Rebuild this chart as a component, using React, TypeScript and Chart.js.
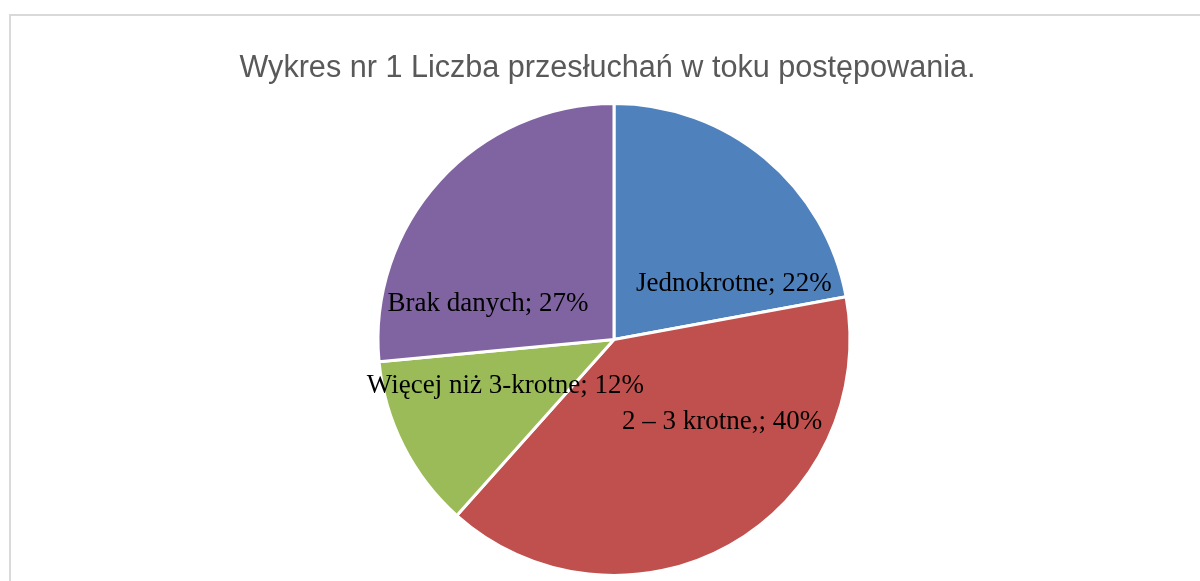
import React, { useEffect, useRef } from "react";
import { Chart, registerables } from "chart.js";

Chart.register(...registerables);

const TITLE = "Wykres nr 1 Liczba przesłuchań w toku postępowania.";
const CATEGORIES = ["Jednokrotne", "2 – 3 krotne,", "Więcej niż 3-krotne", "Brak danych"];
const VALUES = [22.1, 39.5, 11.9, 26.5];
const COLORS = ["#4F81BD", "#C0504D", "#9BBB59", "#8064A2"];
// label placement inside each slice: [fraction along slice angle, fraction of radius]
const LABEL_ANGLE_FRAC = [0.817, 0.337, 0.59, 0.223];
const LABEL_RADIUS_FRAC = [0.56, 0.577, 0.5, 0.555];

const decorPlugin = {
  id: "decor",
  beforeDraw(chart: any) {
    const ctx = chart.ctx;
    ctx.save();
    ctx.fillStyle = "#ffffff";
    ctx.fillRect(0, 0, chart.width, chart.height);
    ctx.strokeStyle = "#d9d9d9";
    ctx.lineWidth = 2;
    ctx.strokeRect(10, 15, 1400, 800);
    ctx.fillStyle = "#595959";
    ctx.font = '30.6px "Liberation Sans", Arial, sans-serif';
    ctx.textAlign = "center";
    ctx.textBaseline = "alphabetic";
    ctx.fillText(TITLE, 607.5, 77);
    ctx.restore();
  },
  afterDatasetsDraw(chart: any) {
    const ctx = chart.ctx;
    const meta = chart.getDatasetMeta(0);
    ctx.save();
    ctx.fillStyle = "#000000";
    ctx.font = '27px "Liberation Serif", "Times New Roman", serif';
    ctx.textAlign = "center";
    ctx.textBaseline = "middle";
    meta.data.forEach((arc: any, i: number) => {
      const { x, y, startAngle, endAngle, outerRadius } = arc.getProps(
        ["x", "y", "startAngle", "endAngle", "outerRadius"],
        true
      );
      const a = startAngle + LABEL_ANGLE_FRAC[i] * (endAngle - startAngle);
      const r = outerRadius * LABEL_RADIUS_FRAC[i];
      const lx = x + Math.cos(a) * r;
      const ly = y + Math.sin(a) * r;
      const pct = Math.round(VALUES[i]);
      ctx.fillText(`${CATEGORIES[i]}; ${pct}%`, lx, ly);
    });
    ctx.restore();
  },
};

export default function App() {
  const ref = useRef<HTMLCanvasElement | null>(null);
  useEffect(() => {
    if (!ref.current) return;
    const chart = new Chart(ref.current, {
      type: "pie",
      data: {
        labels: CATEGORIES,
        datasets: [
          {
            data: VALUES,
            backgroundColor: COLORS,
            borderColor: "#ffffff",
            borderWidth: 3,
          },
        ],
      },
      options: {
        animation: false,
        responsive: true,
        maintainAspectRatio: false,
        layout: { padding: { left: 376, right: 348, top: 102, bottom: 4 } },
        plugins: {
          legend: { display: false },
          title: { display: false },
          tooltip: { enabled: false },
        },
      },
      plugins: [decorPlugin],
    });
    return () => chart.destroy();
  }, []);
  return (
    <div style={{ position: "fixed", left: 0, top: 0, width: 1200, height: 581, background: "#fff" }}>
      <canvas ref={ref} />
    </div>
  );
}
